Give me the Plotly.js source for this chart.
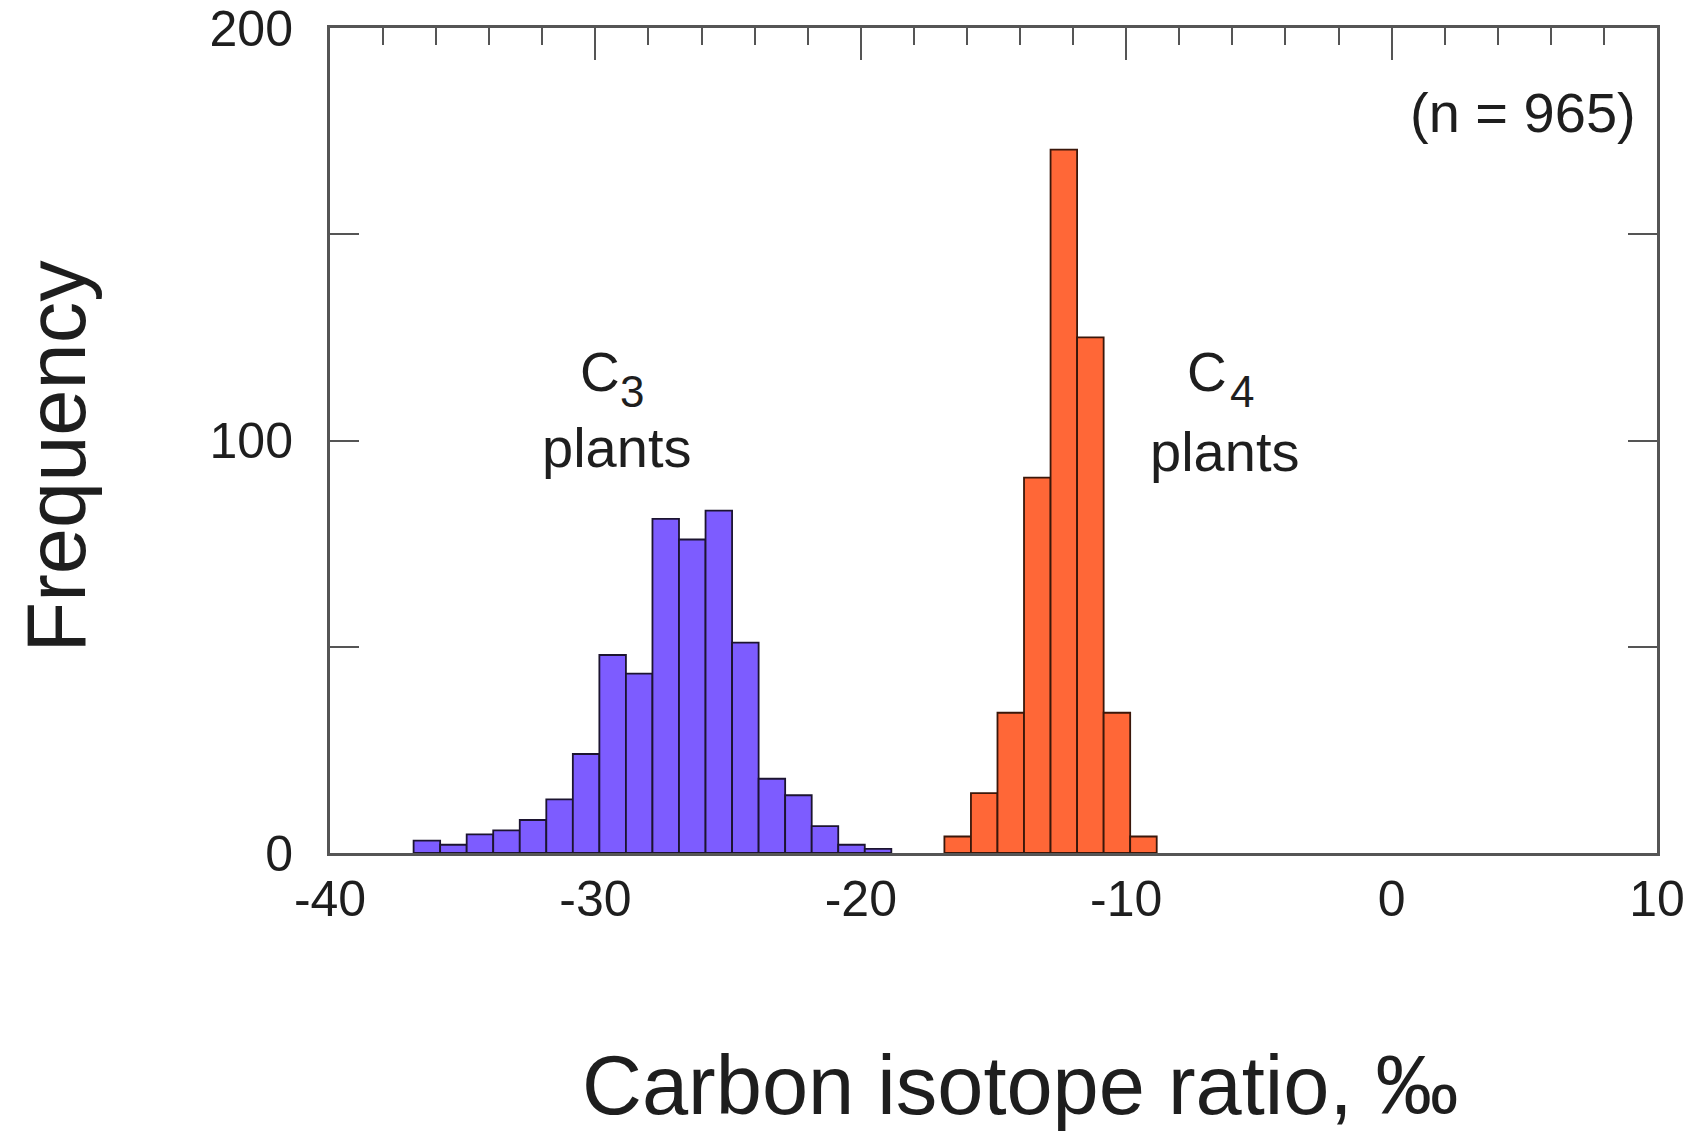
<!DOCTYPE html>
<html>
<head>
<meta charset="utf-8">
<script src="https://cdn.plot.ly/plotly-3.0.1.min.js"></script>
<style>
  html, body { margin: 0; padding: 0; background: #ffffff; }
  #chart { width: 1703px; height: 1132px; }
</style>
</head>
<body>
<div id="chart"></div>
<script>
// Bin centres (per mil) and counts
const c3BinCenters = [-36.35, -35.35, -34.35, -33.35, -32.35, -31.35, -30.35, -29.35, -28.35,
                      -27.35, -26.35, -25.35, -24.35, -23.35, -22.35, -21.35, -20.35, -19.35];
const c3Counts     = [3, 2, 4.5, 5.5, 8, 13, 24, 48, 43.5, 81, 76, 83, 51, 18, 14, 6.5, 2, 1];

const c4BinCenters = [-16.35, -15.35, -14.35, -13.35, -12.35, -11.35, -10.35, -9.35];
const c4Counts     = [4, 14.5, 34, 91, 170.5, 125, 34, 4];

const xTickVals  = [-40, -30, -20, -10, 0, 10];
const xTickText  = ['-40', '-30', '-20', '-10', '0', '10'];
const yTickVals  = [0, 100, 200];
const yTickText  = ['0', '100', '200'];

const sampleLabel = '(n = 965)';
// group labels: main letter, subscript digit, second line
const c3Label = ['C', '3', 'plants'];
const c4Label = ['C', '4', 'plants'];
const xTitle = 'Carbon isotope ratio, ‰';
const yTitle = 'Frequency';

const FONT = '"Liberation Sans", Arial, Helvetica, sans-serif';
const AXIS = '#555555';
const TXT = '#1e1e1e';

const traces = [
  {
    type: 'bar',
    x: c3BinCenters,
    y: c3Counts,
    width: 1,
    xaxis: 'x',
    yaxis: 'y',
    marker: { color: '#7d5cff', line: { color: '#1c1430', width: 1.8 } },
    hoverinfo: 'x+y',
    showlegend: false
  },
  {
    type: 'bar',
    x: c4BinCenters,
    y: c4Counts,
    width: 1,
    xaxis: 'x2',
    yaxis: 'y',
    marker: { color: '#ff6737', line: { color: '#3a170a', width: 1.8 } },
    hoverinfo: 'x+y',
    showlegend: false
  }
];

function ann(x, y, text, size, extra) {
  return Object.assign({ xref: 'x', yref: 'y', x: x, y: y, text: text, showarrow: false,
    xanchor: 'center', yanchor: 'middle', font: { family: FONT, size: size, color: TXT } }, extra || {});
}

const layout = {
  width: 1703,
  height: 1132,
  margin: { l: 330, r: 46, t: 28, b: 279 },
  paper_bgcolor: '#ffffff',
  plot_bgcolor: '#ffffff',
  bargap: 0,
  barmode: 'overlay',
  font: { family: FONT, color: TXT, size: 50 },
  xaxis: {
    range: [-40, 10],
    tickmode: 'array',
    tickvals: xTickVals,
    ticktext: xTickText,
    ticks: '',
    ticklabelstandoff: 0,
    tickfont: { family: FONT, size: 50, color: TXT },
    showline: true,
    linecolor: AXIS,
    linewidth: 3,
    mirror: true,
    showgrid: false,
    zeroline: false,
    fixedrange: true
  },
  xaxis2: {
    range: [-40, 10],
    overlaying: 'x',
    anchor: 'y',
    side: 'top',
    tickmode: 'array',
    tickvals: xTickVals,
    ticks: 'inside',
    ticklen: 32,
    tickwidth: 2,
    tickcolor: AXIS,
    minor: { ticks: 'inside', ticklen: 17, tickwidth: 2, tickcolor: AXIS, dtick: 2, tick0: 0 },
    showticklabels: false,
    showline: false,
    showgrid: false,
    zeroline: false,
    fixedrange: true
  },
  yaxis: {
    range: [0, 200],
    tickmode: 'array',
    tickvals: yTickVals,
    ticktext: yTickText,
    ticks: 'inside',
    ticklen: 29,
    tickwidth: 2,
    tickcolor: AXIS,
    minor: { ticks: 'inside', ticklen: 29, tickwidth: 2, tickcolor: AXIS, dtick: 50, tick0: 0 },
    ticklabelstandoff: 24,
    tickfont: { family: FONT, size: 50, color: TXT },
    showline: true,
    linecolor: AXIS,
    linewidth: 3,
    mirror: 'ticks',
    showgrid: false,
    zeroline: false,
    fixedrange: true
  },
  annotations: [
    { xref: 'paper', yref: 'paper', x: 0.5207, y: -0.2824, text: xTitle, showarrow: false,
      xanchor: 'center', yanchor: 'middle', font: { family: FONT, size: 83, color: TXT } },
    { xref: 'paper', yref: 'paper', x: -0.2061, y: 0.4812, text: yTitle, showarrow: false,
      textangle: -90, xanchor: 'center', yanchor: 'middle', font: { family: FONT, size: 83, color: TXT } },
    ann(9.3, 179.6, sampleLabel, 56, { xanchor: 'right' }),
    ann(-29.83, 116.5, c3Label[0], 55),
    ann(-28.62, 111.8, c3Label[1], 44),
    ann(-29.2, 98.3, c3Label[2], 56),
    ann(-6.94, 116.5, c4Label[0], 55),
    ann(-5.64, 111.8, c4Label[1], 44),
    ann(-6.3, 97.3, c4Label[2], 56)
  ]
};

Plotly.newPlot('chart', traces, layout, { displayModeBar: false, staticPlot: true });
</script>
</body>
</html>
